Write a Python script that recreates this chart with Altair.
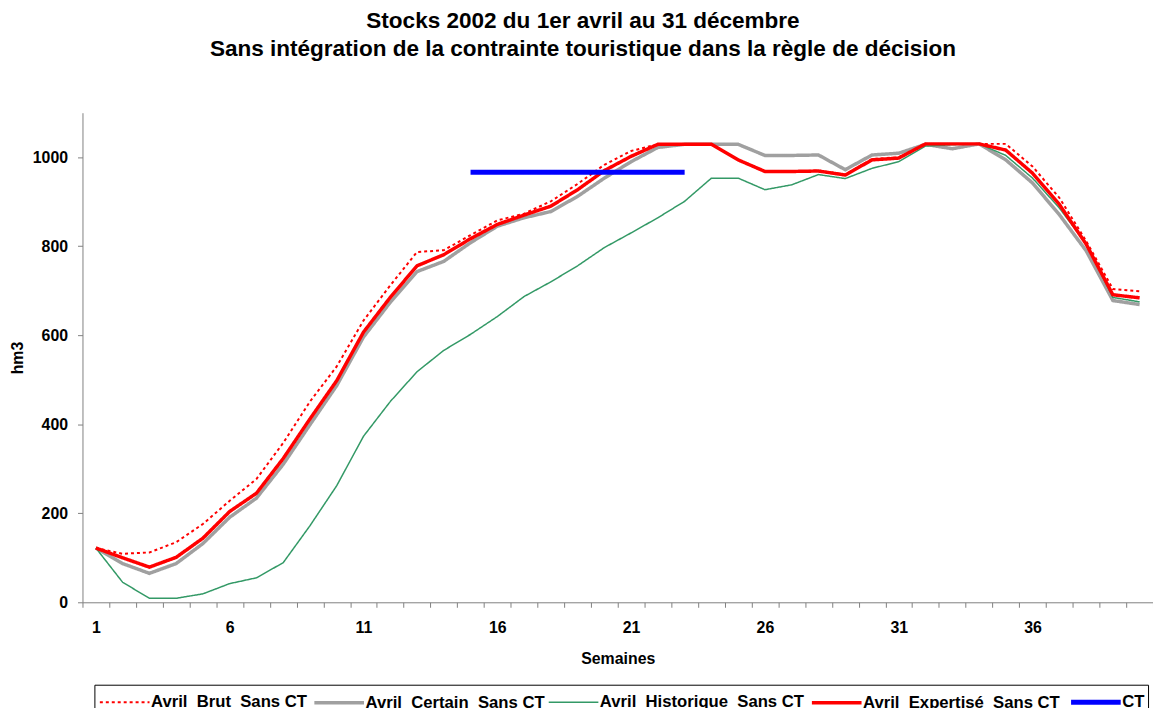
import altair as alt
import pandas as pd

# ---- data ----
weeks = list(range(1, 41))

brut = [122, 109, 112, 135, 176, 228, 277, 358, 451, 530,
        633, 712, 787, 791, 825, 858, 873, 901, 940, 983,
        1014, 1029, 1029, 1029, 994, 968, 968, 970, 961, 996,
        1000, 1030, 1030, 1030, 1030, 979, 909, 812, 704, 699]

certain = [122, 87, 65, 87, 132, 191, 234, 310, 399, 487,
           596, 674, 743, 766, 808, 845, 864, 878, 912, 953,
           990, 1022, 1029, 1029, 1029, 1004, 1004, 1005, 972, 1005,
           1009, 1029, 1019, 1030, 994, 942, 871, 790, 678, 669]

historique = [122, 45, 9, 9, 19, 42, 55, 89, 172, 262,
              373, 451, 518, 566, 602, 642, 687, 720, 756, 797,
              830, 864, 901, 953, 953, 927, 938, 961, 952, 975,
              990, 1025, 1028, 1030, 1004, 953, 886, 805, 685, 675]

expertise = [122, 100, 79, 101, 144, 204, 245, 323, 412, 498,
             607, 685, 756, 781, 817, 849, 870, 890, 927, 970,
             1002, 1029, 1029, 1029, 994, 968, 968, 969, 960, 994,
             998, 1030, 1030, 1030, 1016, 964, 894, 805, 691, 684]

ct_weeks = [15, 16, 17, 18, 19, 20, 21, 22, 23]
ct_values = [966, 966, 966, 966, 966, 966, 966, 966, 966]

series_names = ["Avril_Brut_Sans CT", "Avril_Certain_Sans CT",
                "Avril_Historique_Sans CT", "Avril_Expertisé_Sans CT", "CT"]
series_colors = ["#FF0000", "#A0A0A0", "#339966", "#FF0000", "#0000FF"]
series_dash = [[3, 3], [1, 0], [1, 0], [1, 0], [1, 0]]
series_width = [2, 3.5, 1.5, 3.5, 5]

title_lines = ["Stocks 2002 du 1er avril au 31 décembre",
               "Sans intégration de la contrainte touristique dans la règle de décision"]

# ---- long table ----
rows = []
for name, vals in zip(series_names[:4], [brut, certain, historique, expertise]):
    for w, v in zip(weeks, vals):
        rows.append({"week": w, "value": v, "serie": name})
for w, v in zip(ct_weeks, ct_values):
    rows.append({"week": w, "value": v, "serie": series_names[4]})
df = pd.DataFrame(rows)

FONT = "Liberation Sans"

legend_kw = dict(
    title=None, orient="none", legendX=12, legendY=576, direction="horizontal",
    columns=5, columnPadding=0, labelOffset=25, padding=3, strokeColor="black",
    labelFont=FONT, labelFontSize=16.8, labelFontWeight="bold", labelColor="black",
    labelLimit=400, symbolType="M-1,0H3.1667", symbolSize=576, rowPadding=0,
)

x_enc = alt.X(
    "week:O",
    scale=alt.Scale(type="band", paddingInner=0, paddingOuter=0),
    bandPosition=0.5,
    title="Semaines",
    axis=alt.Axis(
        tickBand="extent", labelAngle=0,
        labelExpr="(datum.value - 1) % 5 == 0 ? datum.label : ''",
        labelPadding=12, tickSize=5, titlePadding=16,
        domainColor="#808080", tickColor="#808080",
    ),
)
y_enc = alt.Y(
    "value:Q",
    scale=alt.Scale(domain=[0, 1100], nice=False, zero=True),
    title="hm3",
    axis=alt.Axis(values=[0, 200, 400, 600, 800, 1000], format="d", grid=False,
                  tickSize=5, labelPadding=10, titlePadding=7,
                  domainColor="#808080", tickColor="#808080"),
)

base = alt.Chart(df).mark_line(strokeJoin="miter", strokeCap="butt").encode(
    x=x_enc,
    y=y_enc,
    color=alt.Color("serie:N", scale=alt.Scale(domain=series_names, range=series_colors),
                    legend=alt.Legend(**legend_kw)),
    strokeDash=alt.StrokeDash("serie:N", scale=alt.Scale(domain=series_names, range=series_dash),
                              legend=alt.Legend(**legend_kw)),
    strokeWidth=alt.StrokeWidth("serie:N", scale=alt.Scale(type="ordinal", domain=series_names, range=series_width),
                                legend=alt.Legend(**legend_kw)),
)

layers = [base.transform_filter(alt.datum.serie == n) for n in series_names]

chart = alt.layer(*layers).properties(
    width=1078,
    height=493,
    padding={"left": 75, "top": 103, "right": 0, "bottom": 104},
    autosize=alt.AutoSizeParams(type="none"),
    background="white",
    title=alt.TitleParams(
        text=title_lines, font=FONT, fontSize=22.7, fontWeight="bold",
        color="black", anchor="middle", offset=52, lineHeight=29, dx=-35,
    ),
).configure_view(stroke=None).configure_axis(
    labelFont=FONT, labelFontSize=16, labelFontWeight="bold", labelColor="black",
    titleFont=FONT, titleFontSize=16, titleFontWeight="bold", titleColor="black",
)

chart.save("out.html", embed_options={"renderer": "svg", "actions": False})
